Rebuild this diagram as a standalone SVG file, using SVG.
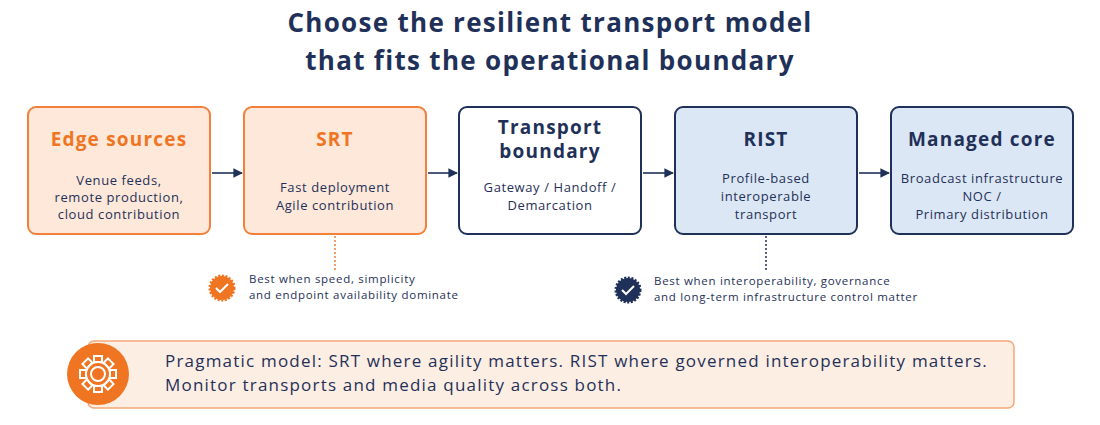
<svg xmlns="http://www.w3.org/2000/svg" width="1100" height="425" viewBox="0 0 1100 425">
<style>
.t{font-family:"Open Sans","Liberation Sans",sans-serif;fill:#1f3158}
.h{font-weight:700;font-size:19px;text-anchor:middle;letter-spacing:1.2px}
.b{font-size:13px;text-anchor:middle;letter-spacing:0.6px}
.o{fill:#f07522}
.s{font-size:11.5px;letter-spacing:0.7px}
.box{stroke-width:2}
.or{fill:#fde8da;stroke:#f3803a}
.wh{fill:#fff;stroke:#1f3158}
.bl{fill:#dce7f5;stroke:#1f3158}
.c{stroke:#1f3158;stroke-width:1.6;fill:none}
.ti{font-size:26px;letter-spacing:1.3px}
.bn{font-size:17px;letter-spacing:1.2px}
</style>
<defs><marker id="a" viewBox="0 0 10 10" refX="9" refY="5" markerWidth="6" markerHeight="6" orient="auto"><path d="M0,0L10,5L0,10z" fill="#1f3158"/></marker></defs>
<rect width="1100" height="425" fill="#fff"/>
<text class="t h ti" x="550" y="32">Choose the resilient transport model</text>
<text class="t h ti" x="550" y="70">that fits the operational boundary</text>
<g id="edge"><rect class="box or" x="28" y="107" width="182" height="127" rx="8" fill="#fff3ec"/><text class="t h o" x="119" y="146">Edge sources</text><text class="t b" x="119" y="185">Venue feeds,</text><text class="t b" x="119" y="202">remote production,</text><text class="t b" x="119" y="219">cloud contribution</text></g>
<g id="srt"><rect class="box or" x="244" y="107" width="182" height="127" rx="8"/><text class="t h o" x="335" y="146">SRT</text><text class="t b" x="335" y="192">Fast deployment</text><text class="t b" x="335" y="210">Agile contribution</text></g>
<g id="tb"><rect class="box wh" x="459" y="107" width="182" height="127" rx="8"/><text class="t h" x="550" y="134">Transport</text><text class="t h" x="550" y="158">boundary</text><text class="t b" x="550" y="192">Gateway / Handoff /</text><text class="t b" x="550" y="210">Demarcation</text></g>
<g id="rist"><rect class="box bl" x="675" y="107" width="182" height="127" rx="8"/><text class="t h" x="766" y="146">RIST</text><text class="t b" x="766" y="183">Profile-based</text><text class="t b" x="766" y="201">interoperable</text><text class="t b" x="766" y="219">transport</text></g>
<g id="core"><rect class="box bl" x="891" y="107" width="182" height="127" rx="8"/><text class="t h" x="982" y="146">Managed core</text><text class="t b" x="982" y="183">Broadcast infrastructure</text><text class="t b" x="982" y="201">NOC /</text><text class="t b" x="982" y="219">Primary distribution</text></g>
<g id="connectors">
<line class="c" x1="212" y1="173" x2="242" y2="173" marker-end="url(#a)"/>
<line class="c" x1="428" y1="173" x2="457" y2="173" marker-end="url(#a)"/>
<line class="c" x1="643" y1="173" x2="673" y2="173" marker-end="url(#a)"/>
<line class="c" x1="859" y1="173" x2="889" y2="173" marker-end="url(#a)"/>
<line x1="335" y1="236" x2="335" y2="270" stroke="#f3803a" stroke-width="1.5" stroke-dasharray="2 2"/>
<line x1="766" y1="236" x2="766" y2="270" stroke="#1f3158" stroke-width="1.5" stroke-dasharray="2 2"/>
</g>
<g id="note-srt"><circle cx="222" cy="288" r="12" fill="#f07522" stroke="#f07522" stroke-width="3" stroke-dasharray="2 1.5"/><path d="M216,288l4,4l8,-8" stroke="#fff" stroke-width="2" fill="none"/><text class="t s" x="249" y="283">Best when speed, simplicity</text><text class="t s" x="249" y="299">and endpoint availability dominate</text></g>
<g id="note-rist"><circle cx="628" cy="290" r="12" fill="#1f3158" stroke="#1f3158" stroke-width="3" stroke-dasharray="2 1.5"/><path d="M622,290l4,4l8,-8" stroke="#fff" stroke-width="2" fill="none"/><text class="t s" x="654" y="285">Best when interoperability, governance</text><text class="t s" x="654" y="301">and long-term infrastructure control matter</text></g>
<g id="banner"><rect x="88" y="341" width="926" height="67" rx="6" fill="#fdeee4" stroke="#f3a877" stroke-width="1.5"/>
<circle cx="98" cy="374" r="31" fill="#f07522"/>
<g stroke="#fff" stroke-width="2" fill="none"><circle cx="98" cy="374" r="12"/><circle cx="98" cy="374" r="7"/>
<g id="teeth"><rect x="94" y="356" width="8" height="6"/><rect x="94" y="356" width="8" height="6" transform="rotate(45 98 374)"/><rect x="94" y="356" width="8" height="6" transform="rotate(90 98 374)"/><rect x="94" y="356" width="8" height="6" transform="rotate(135 98 374)"/><rect x="94" y="356" width="8" height="6" transform="rotate(180 98 374)"/><rect x="94" y="356" width="8" height="6" transform="rotate(225 98 374)"/><rect x="94" y="356" width="8" height="6" transform="rotate(270 98 374)"/><rect x="94" y="356" width="8" height="6" transform="rotate(315 98 374)"/></g></g>
<text class="t bn" x="165" y="367">Pragmatic model: SRT where agility matters. RIST where governed interoperability matters.</text>
<text class="t bn" x="165" y="391">Monitor transports and media quality across both.</text></g>
</svg>
